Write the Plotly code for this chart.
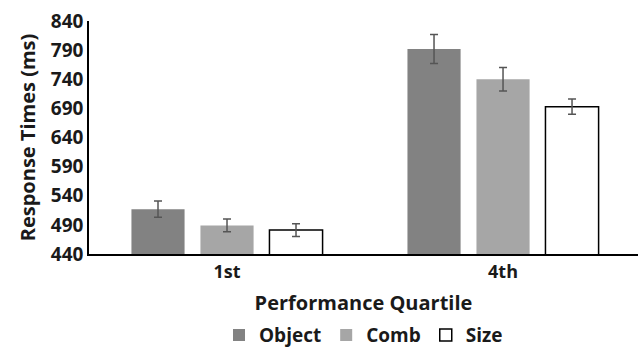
import plotly.graph_objects as go

categories = ["1st", "4th"]
series_names = ["Object", "Comb", "Size"]
object_vals = [517, 792]
comb_vals = [489, 740]
size_vals = [481, 693]
object_err = [14, 25]
comb_err = [11, 20]
size_err = [11, 13]
y_ticks = [440, 490, 540, 590, 640, 690, 740, 790, 840]

fills = ["#828282", "#a6a6a6", "#ffffff"]
lines = ["#828282", "#a6a6a6", "#000000"]
line_w = [0, 0, 1.5]

fig = go.Figure()
for name, vals, errs, fc, lc, lw in zip(series_names, [object_vals, comb_vals, size_vals],
                                        [object_err, comb_err, size_err], fills, lines, line_w):
    fig.add_trace(go.Bar(
        x=[0, 1], y=vals, name=name,
        marker=dict(color=fc, line=dict(color=lc, width=lw)),
        error_y=dict(type="data", array=errs, color="#555555", thickness=1.5, width=4),
    ))

font_fam = "Open Sans, sans-serif"
fig.update_layout(
    width=638, height=351,
    margin=dict(l=89, r=0, t=21, b=97, autoexpand=False),
    paper_bgcolor="white", plot_bgcolor="white",
    barmode="group", bargap=0.25, bargroupgap=0.23,
    font=dict(family=font_fam, color="#1a1a1a", size=16, weight="bold"),
    showlegend=True,
    legend=dict(orientation="h", x=0.5, xanchor="center", yref="container", y=0.045, yanchor="middle",
                font=dict(size=19, weight="bold", color="#1a1a1a"), itemwidth=30,
                traceorder="normal", tracegroupgap=0),
    xaxis=dict(tickmode="array", tickvals=[0, 1], ticktext=categories,
               range=[-0.5, 1.489], showline=True, linecolor="#000000", linewidth=2,
               showgrid=False, ticks="", zeroline=False,
               tickfont=dict(size=18, weight="bold"),
               title=dict(text="Performance Quartile", font=dict(size=20, weight="bold"), standoff=14)),
    yaxis=dict(range=[440, 840], tickmode="array", tickvals=y_ticks,
               showline=True, linecolor="#000000", linewidth=1.5,
               showgrid=False, ticks="", zeroline=False,
               tickfont=dict(size=19, weight="bold"),
               title=dict(text="Response Times (ms)", font=dict(size=20, weight="bold"), standoff=10)),
)
fig.write_html("out.html")
